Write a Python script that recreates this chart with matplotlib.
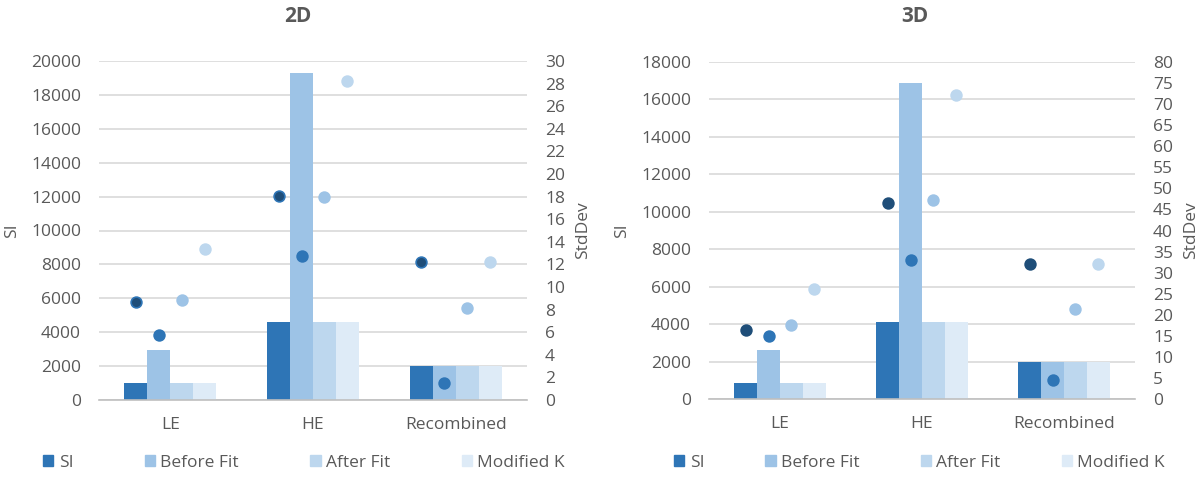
import numpy as np
import matplotlib.pyplot as plt
from matplotlib.patches import Patch

plt.rcParams['font.family'] = ['Open Sans', 'DejaVu Sans']

categories = ['LE', 'HE', 'Recombined']
series = ['SI', 'Before Fit', 'After Fit', 'Modified K']

# bar values (SI axis)
si_2d = [1000, 4600, 2000]
before_2d = [2950, 19300, 2000]
after_2d = [1000, 4600, 2000]
modk_2d = [1000, 4600, 2000]

si_3d = [850, 4100, 2000]
before_3d = [2600, 16900, 2000]
after_3d = [850, 4100, 2000]
modk_3d = [850, 4100, 2000]

# dot values (StdDev axis)
sd_si_2d = [8.7, 18.05, 12.2]
sd_before_2d = [5.75, 12.7, 1.5]
sd_after_2d = [8.85, 17.95, 8.1]
sd_modk_2d = [13.4, 28.2, 12.2]

sd_si_3d = [16.3, 46.6, 32.1]
sd_before_3d = [15.0, 33.0, 4.5]
sd_after_3d = [17.5, 47.3, 21.3]
sd_modk_3d = [26.0, 72.2, 32.1]

bar_colors = ['#2e75b6', '#9dc3e6', '#bdd7ee', '#deebf7']
dot_colors = ['#1f4e79', '#2e75b6', '#9dc3e6', '#bdd7ee']
txt = '#595959'
fs = 12.5

fig = plt.figure(figsize=(11.99, 4.8), dpi=100)


def draw(rect, bars, dots, ymax, ystep, y2max, y2step, title, tx, edge_navy):
    ax = fig.add_axes(rect)
    ax2 = ax.twinx()
    x = np.arange(len(categories))
    w = 0.161
    for i, (vals, sd) in enumerate(zip(bars, dots)):
        off = (i - 1.5) * w
        ax.bar(x + off, vals, w, color=bar_colors[i], zorder=2)
        ec = dot_colors[i]
        if i == 0 and edge_navy:
            ec = '#2e75b6'
        ax2.scatter(x + off, sd, s=60, color=dot_colors[i], edgecolors=ec,
                    linewidths=1.2, zorder=3)
    ax.set_xlim(-0.5, 2.5)
    ax.set_ylim(0, ymax)
    ax.set_yticks(np.arange(0, ymax + 1, ystep))
    ax2.set_ylim(0, y2max)
    ax2.set_yticks(np.arange(0, y2max + 0.1, y2step))
    ax.set_xticks(x)
    ax.set_xticklabels(categories)
    ax.grid(axis='y', color='#d9d9d9', linewidth=1.2, zorder=0)
    ax.set_axisbelow(True)
    for a in (ax, ax2):
        for s in a.spines.values():
            s.set_visible(False)
        a.tick_params(length=0, labelsize=fs, labelcolor=txt)
    ax.spines['bottom'].set_visible(True)
    ax.spines['bottom'].set_color('#bfbfbf')
    ax.spines['bottom'].set_linewidth(1.2)
    ax.tick_params(axis='y', pad=13)
    ax.tick_params(axis='x', pad=12)
    ax2.tick_params(axis='y', pad=13)
    ax.set_ylabel('SI', fontsize=fs, color=txt, labelpad=8)
    ax2.set_ylabel('StdDev', fontsize=fs, color=txt, labelpad=7)
    fig.text(tx, 1 - 17 / 480, title, fontsize=15, fontweight='bold',
             color=txt, ha='center', va='center')
    return ax


draw([99 / 1199, 1 - 400 / 480, 428 / 1199, 339 / 480],
     [si_2d, before_2d, after_2d, modk_2d],
     [sd_si_2d, sd_before_2d, sd_after_2d, sd_modk_2d],
     20000, 2000, 30, 2, '2D', 298 / 1199, True)
draw([709 / 1199, 1 - 399 / 480, 426 / 1199, 337 / 480],
     [si_3d, before_3d, after_3d, modk_3d],
     [sd_si_3d, sd_before_3d, sd_after_3d, sd_modk_3d],
     18000, 2000, 80, 5, '3D', 915 / 1199, False)

handles = [Patch(color=c) for c in bar_colors]
for x0, x1 in [(36, 572), (667, 1172)]:
    fig.legend(handles, series, loc='lower left', ncol=4, mode='expand',
               bbox_to_anchor=(x0 / 1199, 2 / 480, (x1 - x0) / 1199, 26 / 480),
               frameon=False, fontsize=fs, labelcolor=txt,
               handlelength=0.6, handleheight=0.6, handletextpad=0.3,
               borderaxespad=0)

fig.savefig('out.png', dpi=100)
